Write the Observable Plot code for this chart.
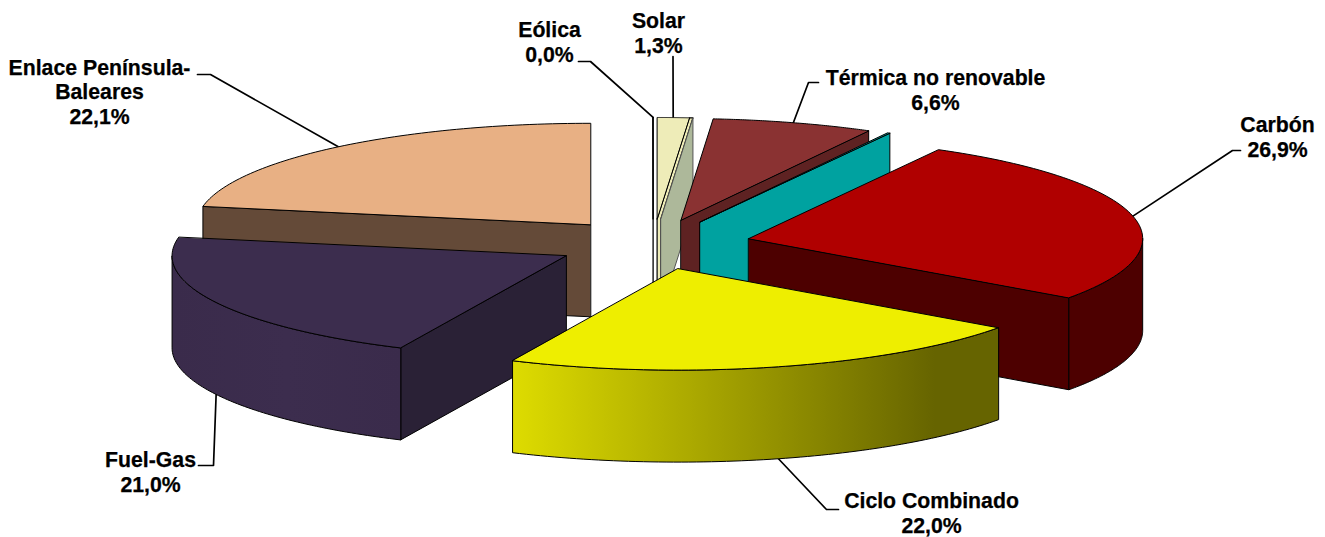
<!DOCTYPE html>
<html><head><meta charset="utf-8">
<style>html,body{margin:0;padding:0;background:#fff}svg{display:block}</style>
<script src="https://cdn.jsdelivr.net/npm/d3@7"></script>
<script src="https://cdn.jsdelivr.net/npm/@observablehq/plot@0.6"></script>
</head><body><script>
const names = ["Eólica","Solar","Térmica no renovable","Hidráulica","Carbón","Ciclo Combinado","Fuel-Gas","Enlace Península-\nBaleares"];
const values = [0.0,1.3,6.6,0.1,26.9,22.0,21.0,22.1];
const percentLabels = ["0,0%","1,3%","6,6%","","26,9%","22,0%","21,0%","22,1%"];
const topColors = ["#ffffff","#eeecb8","#8a3232","#00a2a0","#b00000","#eeee00","#3c2d4e","#e8b084"];
const endWallColors = ["#ffffff","#adb89a","#5e2222","#00a2a0","#4d0000","#666400","#2a2136","#644a38"];
const outerColors = ["#ffffff","#adb89a","#5e2222","#00a2a0","#4d0000","url(#cicloWall)","url(#fuelWall)","#644a38"];
const drawOrder = [0,7,1,2,3,4,6,5];
// label centre, and the elbow of each leader
const labelCentres = [[549,41],[658,32],[935,89],null,[1277,136],[931,512],[150,471],[99,91]];
const leaderBends = [[[590,61],[578,61]],[[672.5,56]],[[808,82],[818,82]],null,[[1232,150],[1240,150]],[[826,509],[838,509]],[[213,465],[198,465]],[[210,74],[197,74]]];

const cx = 652.6, cy = 243.7, R = 394, flat = 0.2576, explode = 98, depth = 92, solarShift = 3.7;
const arcs = d3.pie().sort(null).value(d => d)(values);
const pt = (o, r, a, z = 0) => ({x: o.x + r * Math.sin(a), y: o.y - r * flat * Math.cos(a) + z});
const arcPts = (o, a0, a1, z = 0) => d3.range(0, 73).map(i => pt(o, R, a0 + (a1 - a0) * i / 72, z));
const origin = arc => pt({x: cx, y: cy}, explode, (arc.startAngle + arc.endAngle) / 2);
const shifted = (p, dx, dy = 0) => ({x: p.x + dx, y: p.y + dy});
const faces = [];
for (const i of drawOrder) {
  const a = arcs[i], o = origin(a), a0 = a.startAngle, a1 = a.endAngle;
  const st = {stroke: "#000", strokeWidth: 1};
  const wall = (ang, dx = 0) => [shifted(o,dx), shifted(pt(o,R,ang),dx), shifted(pt(o,R,ang,depth),dx), shifted(o,dx,depth)];
  if (Math.sin(a0) < -1e-6) faces.push({pts: wall(a0), fill: endWallColors[i], ...st});
  if (values[i] === 0) faces.push({pts: wall(a1), fill: "none", stroke: "#000", strokeWidth: 1.3});
  else if (names[i] === "Solar") {
    const p = pt(o,R,a1);
    faces.push({pts: [o, p, shifted(p,solarShift), shifted(o,solarShift), shifted(o,solarShift,depth), shifted(o,0,depth)], fill: topColors[i], stroke: "#000", strokeWidth: 1.2});
    faces.push({pts: wall(a1, solarShift), fill: endWallColors[i], stroke: "#555", strokeWidth: 1});
  } else if (Math.sin(a1) > 1e-6) faces.push({pts: wall(a1), fill: endWallColors[i], ...st});
  const b0 = Math.max(a0, Math.PI/2), b1 = Math.min(a1, 3*Math.PI/2);
  if (b1 > b0) faces.push({pts: [...arcPts(o,b0,b1), ...arcPts(o,b1,b0,depth)], fill: outerColors[i], ...st});
  faces.push({pts: [o, ...arcPts(o,a0,a1)], fill: topColors[i], ...st});
}
const leaders = arcs.flatMap((a,i) => {
  if (!leaderBends[i]) return [];
  const o = origin(a), m = (a.startAngle+a.endAngle)/2;
  const start = pt(o, R, m, Math.cos(m) < 0 ? depth : 0);
  return [[start, ...leaderBends[i].map(([x,y]) => ({x,y}))]];
});
const labels = names.map((n,i) => ({text: n + "\n" + percentLabels[i], c: labelCentres[i]})).filter(d => d.c);

const defs = () => {
  const svg = d3.create("svg:defs");
  const grad = (id, stops) => {
    const g = svg.append("linearGradient").attr("id", id);
    stops.forEach(([o,c]) => g.append("stop").attr("offset", o).attr("stop-color", c));
  };
  grad("cicloWall", [[0,"#dedc00"],[0.87,"#666400"],[1,"#666400"]]);
  grad("fuelWall", [[0,"#3a2b4b"],[0.5,"#3c2d4e"],[1,"#3a2b4b"]]);
  return svg.node();
};

document.body.append(Plot.plot({
  width: 1325, height: 537, margin: 0,
  x: {domain: [0,1325], range: [0,1325], axis: null},
  y: {domain: [0,537], range: [0,537], axis: null},
  style: {background: "#fff"},
  marks: [
    defs,
    ...leaders.map(l => Plot.line(l, {x:"x", y:"y", stroke:"#000", strokeWidth:1.7})),
    ...faces.map(f => Plot.line(f.pts, {x:"x", y:"y", fill:f.fill, stroke:f.stroke, strokeWidth:f.strokeWidth, curve:"linear-closed"})),
    Plot.text(labels, {x:d=>d.c[0], y:d=>d.c[1], text:"text", lineHeight:1.15, fontFamily:"Liberation Sans", fontWeight:"bold", fontSize:21.25, fill:"#000", stroke:"#000", strokeWidth:0.25})
  ]
}));
</script></body></html>
